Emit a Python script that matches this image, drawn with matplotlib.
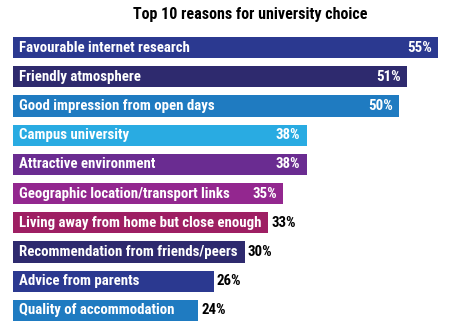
import matplotlib
matplotlib.use('Agg')
import matplotlib.pyplot as plt

# Data
reasons = [
    'Favourable internet research',
    'Friendly atmosphere',
    'Good impression from open days',
    'Campus university',
    'Attractive environment',
    'Geographic location/transport links',
    'Living away from home but close enough',
    'Recommendation from friends/peers',
    'Advice from parents',
    'Quality of accommodation',
]
percent = [55, 51, 50, 38, 38, 35, 33, 30, 26, 24]
colors = ['#2B3990', '#2E2A6E', '#1F7BC1', '#29ABE2', '#6A2C91',
          '#93278F', '#9E1F63', '#2E2A6E', '#2B3990', '#1F7BC1']
inside = [True, True, True, True, True, True, False, False, False, False]

font = ['Roboto Condensed', 'DejaVu Sans']
style = dict(fontweight='bold', family=font, fontstretch='condensed', va='center')

fig = plt.figure(figsize=(4.5, 3.3), dpi=100)
ax = fig.add_axes([13 / 450, 5 / 330, 425 / 450, 292 / 330])

y = range(len(reasons))
ax.barh(y, percent, height=0.72, color=colors)
ax.set_xlim(0, 55)
ax.set_ylim(len(reasons) - 0.5, -0.5)
ax.axis('off')

for i, (name, val) in enumerate(zip(reasons, percent)):
    ax.text(0.8, i, name, color='white', fontsize=10.75, ha='left', **style)
    if inside[i]:
        ax.text(val - 0.8, i, f'{val}%', color='white', fontsize=10.75,
                ha='right', **style)
    else:
        ax.text(val + 0.4, i, f'{val}%', color='black', fontsize=10.75,
                ha='left', **style)

fig.text(250 / 450, 1 - 15 / 330, 'Top 10 reasons for university choice',
         fontsize=11.5, ha='center', **style)

fig.savefig('out.png', dpi=100)
